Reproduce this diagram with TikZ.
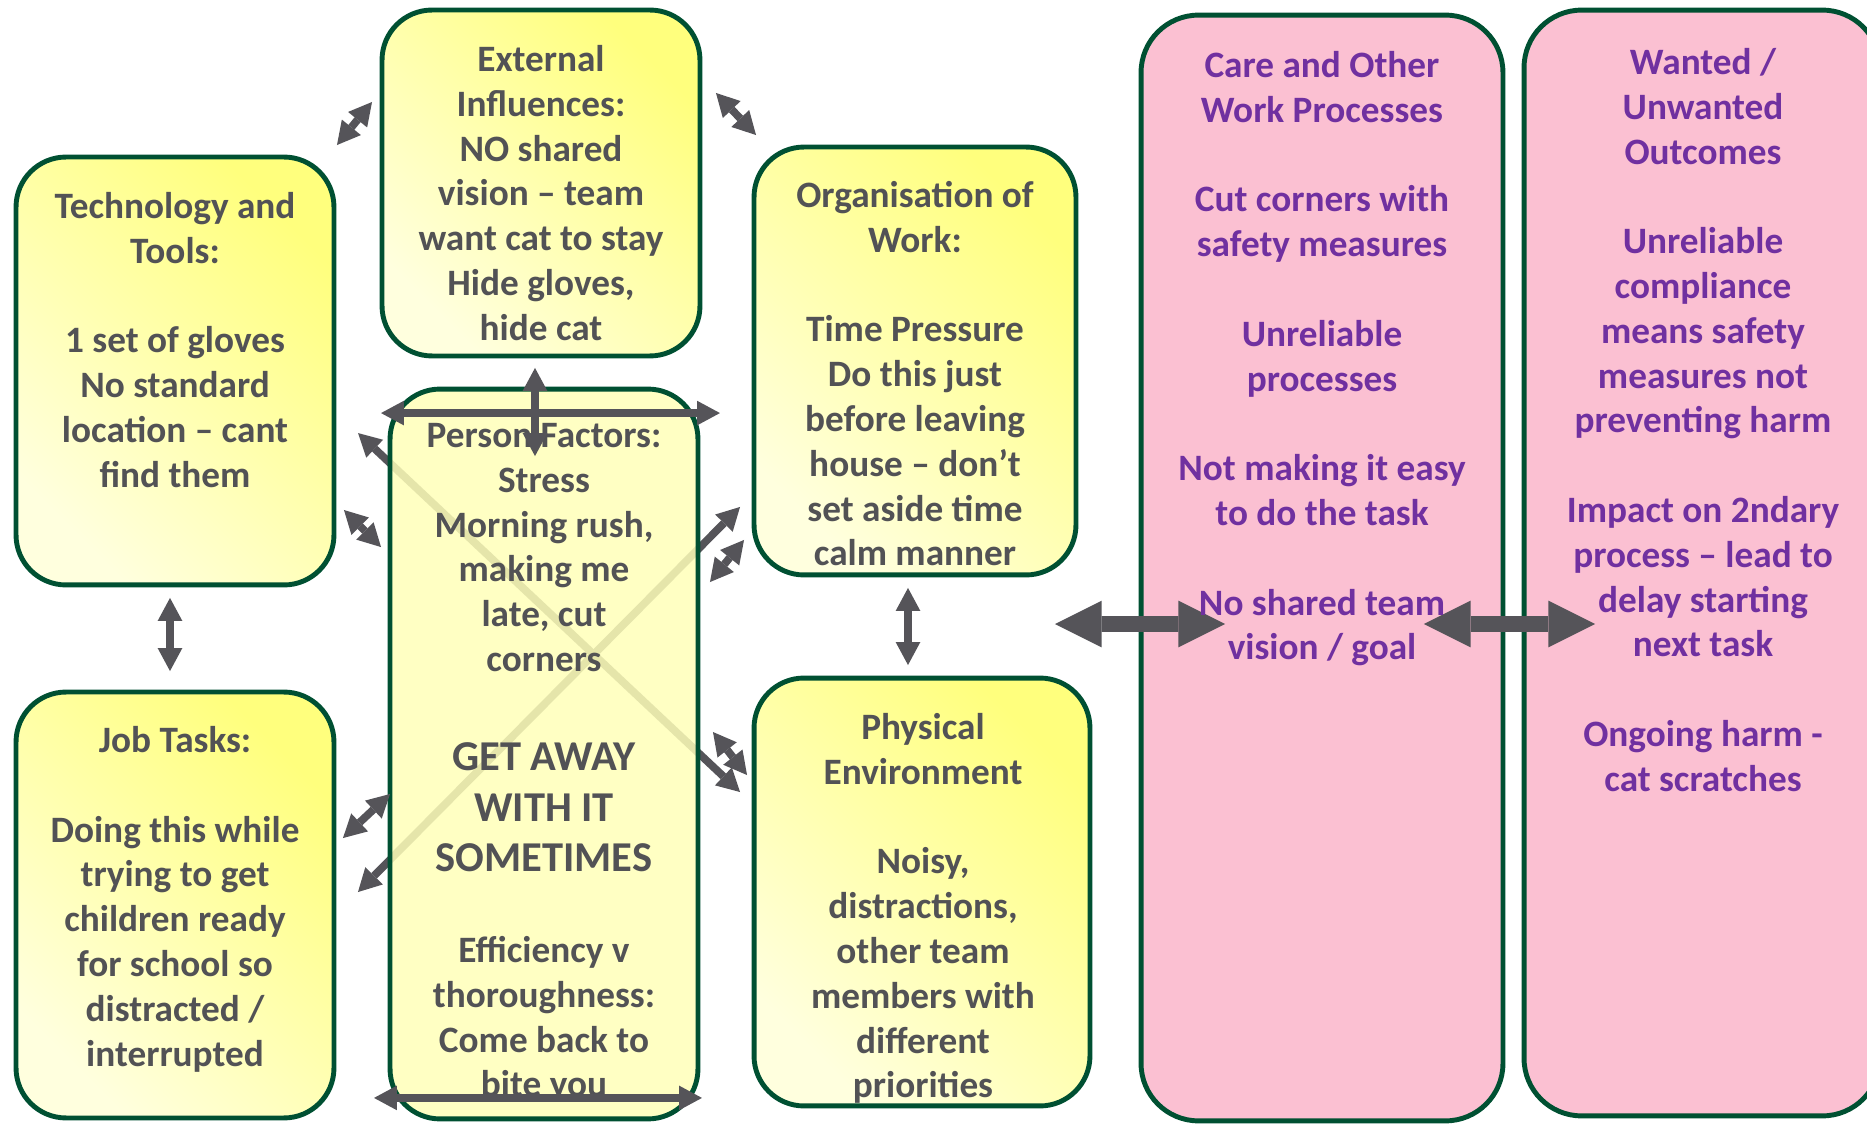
\documentclass[tikz,border=0pt]{standalone}
\usepackage{fontspec}
\setmainfont{Carlito}
\usetikzlibrary{arrows.meta,backgrounds}
\definecolor{boxgreen}{RGB}{0,80,50}
\definecolor{ybright}{RGB}{255,255,125}
\definecolor{ylight}{RGB}{255,255,222}
\definecolor{ypale}{RGB}{255,255,185}
\definecolor{pinkfill}{RGB}{251,192,210}
\definecolor{textgray}{RGB}{82,82,85}
\definecolor{outpurple}{RGB}{112,48,160}
\definecolor{arrowgray}{RGB}{85,84,89}

\begin{document}
\begin{tikzpicture}[x=0.02cm, y=-0.02cm,
	ybox/.style={rectangle, draw=boxgreen, line width=2.8pt, rounded corners=1cm, outer sep=0pt, top color=ybright, bottom color=ylight, shading angle=-45},
	pbox/.style={rectangle, draw=boxgreen, line width=2.8pt, rounded corners=1cm, outer sep=0pt, fill=ypale, fill opacity=0.85, draw opacity=1},
	obox/.style={rectangle, draw=boxgreen, line width=2.8pt, rounded corners=1.15cm, outer sep=0pt, fill=pinkfill},
	dtext/.style={text=textgray, font=\fontsize{21.2}{25.5}\selectfont\bfseries, align=center, anchor=north, inner sep=0pt, execute at begin node=\strut},
	bigtext/.style={dtext, font=\fontsize{24.2}{28.9}\selectfont\bfseries},
	otext/.style={dtext, text=outpurple},
	link/.style={{Triangle[length=13pt, width=14pt, line width=0pt]}-{Triangle[length=13pt, width=14pt, line width=0pt]}, draw=arrowgray, line width=4.4pt},
	biglink/.style={{Triangle[length=26.6pt, width=26.6pt, line width=0pt]}-{Triangle[length=26.6pt, width=26.6pt, line width=0pt]}, draw=arrowgray, line width=9pt}]
	\useasboundingbox (0,0) rectangle (1867,1124);

	\node[ybox, minimum width=6.36cm, minimum height=8.56cm](tech) at (175,371){};
	\node[ybox, minimum width=6.36cm, minimum height=6.92cm](ext) at (541,183){};
	\node[ybox, minimum width=6.44cm, minimum height=8.56cm](org) at (915,361){};
	\node[ybox, minimum width=6.72cm, minimum height=8.56cm](phys) at (922,892){};
	\node[ybox, minimum width=6.36cm, minimum height=8.52cm](job) at (175,905){};
	\node[pbox, minimum width=6.16cm, minimum height=14.6cm](person) at (544,754){};

	\begin{pgfonlayer}{background}
	\draw[link] ([shift={(-32,44)}]person.north west) -- ([shift={(-14,114)}]phys.north west);
	\draw[link] ([shift={(-14,-68)}]org.south west) -- ([shift={(24,200)}]job.north east);
	\end{pgfonlayer}

	\node[obox, minimum width=7.24cm, minimum height=22.12cm](care) at (1322,568){};
	\node[obox, minimum width=7.12cm, minimum height=22.12cm](outc) at (1702,563){};

	\node[dtext](techT) at (175,192){Technology and\\Tools:\\ \\1 set of gloves\\No standard\\location – cant\\find them};
	\node[dtext](extT) at (541,45){External\\Influences:\\NO shared\\vision – team\\want cat to stay\\Hide gloves,\\hide cat};
	\node[dtext](orgT) at (915,181){Organisation of\\Work:\\ \\Time Pressure\\Do this just\\before leaving\\house – don’t\\set aside time\\calm manner};
	\node[dtext](personT) at (544,423){Person Factors:\\Stress\\Morning rush,\\making me\\late, cut\\corners};
	\node[bigtext](personBig) at (544,742){GET AWAY\\WITH IT\\SOMETIMES};
	\node[dtext](personEnd) at (544,936){Efficiency v\\thoroughness:\\Come back to\\bite you};
	\node[dtext](physT) at (923,713){Physical\\Environment\\ \\Noisy,\\distractions,\\other team\\members with\\different\\priorities};
	\node[dtext](jobT) at (175,726){Job Tasks:\\ \\Doing this while\\trying to get\\children ready\\for school so\\distracted /\\interrupted};

	\draw[link] ([shift={(3,-12)}]tech.north east) -- ([shift={(-10,-81)}]ext.west);
	\draw[link] ([shift={(16,-90)}]ext.east) -- ([shift={(2,-12)}]org.north west);
	\draw[link] ([shift={(-6,12)}]ext.south) -- ([shift={(-9,67)}]person.north);
	\draw[link] ([shift={(-9,24)}]person.north west) -- ([shift={(22,24)}]person.north east);
	\draw[link] ([shift={(-16,-21)}]person.south west) -- ([shift={(4,-21)}]person.south east);
	\draw[link] ([shift={(-5,13)}]tech.south) -- ([shift={(-5,-21)}]job.north);
	\draw[link] ([shift={(-7,13)}]org.south) -- ([shift={(-14,-13)}]phys.north);
	\draw[link] ([shift={(10,139)}]tech.east) -- ([shift={(-9,158)}]person.north west);
	\draw[link] ([shift={(12,193)}]person.north east) -- ([shift={(-10,-35)}]org.south west);
	\draw[link] ([shift={(9,146)}]job.north east) -- ([shift={(0,40)}]person.west);
	\draw[link] ([shift={(15,-22)}]person.east) -- ([shift={(-7,97)}]phys.north west);

	\draw[biglink] ([shift={(-35,-54)}]phys.north east) -- ([shift={(84,56)}]care.west);
	\draw[biglink] ([shift={(-79,56)}]care.east) -- ([shift={(71,61)}]outc.west);

	\node[otext](careT) at (1322,51){Care and Other\\Work Processes\\ \\Cut corners with\\safety measures\\ \\Unreliable\\processes\\ \\Not making it easy\\to do the task\\ \\No shared team\\vision / goal};
	\node[otext](outcT) at (1703,48){Wanted /\\Unwanted\\Outcomes\\ \\Unreliable\\compliance\\means safety\\measures not\\preventing harm\\ \\Impact on 2ndary\\process – lead to\\delay starting\\next task\\ \\Ongoing harm -\\cat scratches};
\end{tikzpicture}
\end{document}
